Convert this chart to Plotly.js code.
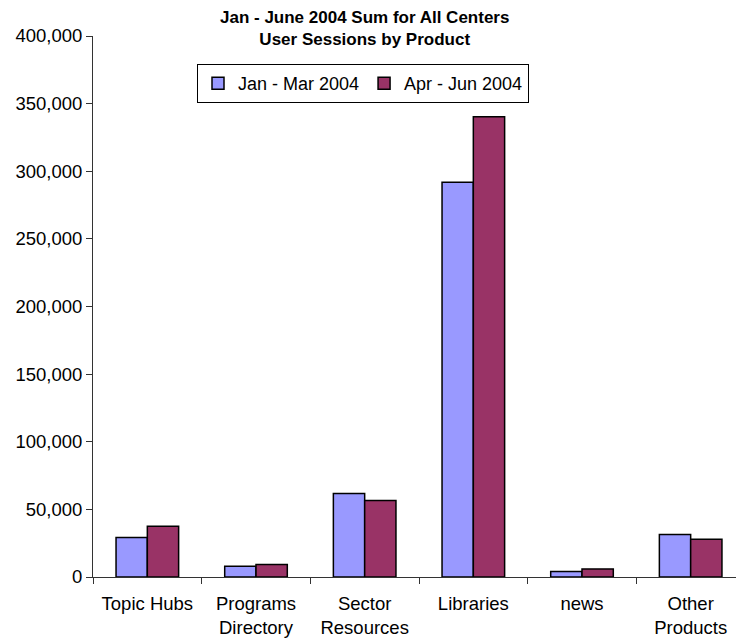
<!DOCTYPE html>
<html>
<head>
<meta charset="utf-8">
<script src="https://cdn.plot.ly/plotly-3.0.1.min.js"></script>
<style>
  html, body { margin: 0; padding: 0; background: #fff; overflow: hidden; }
  #chart { width: 752px; height: 639px; }
</style>
</head>
<body>
<div id="chart"></div>
<script>
// Products along the x axis
const products = ["Topic Hubs", "Programs<br>Directory", "Sector<br>Resources", "Libraries", "news", "Other<br>Products"];

// User sessions per quarter
const janMar2004 = [29200, 8000, 61700, 291900, 4100, 31400];
const aprJun2004 = [37600, 9200, 56600, 340300, 6000, 28000];

const seriesNames = ["Jan - Mar 2004", "Apr - Jun 2004"];
const yTicks = [0, 50000, 100000, 150000, 200000, 250000, 300000, 350000, 400000];
const chartTitle = "<b>Jan - June 2004 Sum for All Centers<br>User Sessions by Product</b>";

const font = "Liberation Sans, Arial, sans-serif";

// plot area in pixels: left 93, top 36, width 652, height 541
const plotTop = 36, plotH = 541, plotL = 93, plotW = 652;
const py = p => (plotTop + plotH - p) / plotH;   // pixel row -> paper y
const px = p => (p - plotL) / plotW;             // pixel column -> paper x

const traces = [
  {
    type: "bar", name: seriesNames[0], x: products, y: janMar2004,
    marker: { color: "#9999FF", line: { color: "#000000", width: 1.5 } },
    hoverinfo: "skip"
  },
  {
    type: "bar", name: seriesNames[1], x: products, y: aprJun2004,
    marker: { color: "#993366", line: { color: "#000000", width: 1.5 } },
    hoverinfo: "skip"
  }
];

const layout = {
  width: 752, height: 639,
  margin: { l: plotL, r: 752 - plotL - plotW, t: plotTop, b: 639 - plotTop - plotH },
  paper_bgcolor: "#ffffff", plot_bgcolor: "#ffffff",
  font: { family: font, size: 18, color: "#000000" },
  barmode: "group", bargap: 0.424, bargroupgap: 0,
  annotations: [{
    text: chartTitle, showarrow: false,
    xref: "paper", yref: "paper",
    x: px(364), xanchor: "center",
    y: py(6), yanchor: "top",
    font: { family: font, size: 17, color: "#000000" }
  }],
  xaxis: {
    type: "category",
    showline: true, linecolor: "#333333", linewidth: 1,
    ticks: "outside", tickson: "boundaries", ticklen: 6, tickcolor: "#333333",
    ticklabelstandoff: 10,
    showgrid: false, zeroline: false,
    tickfont: { family: font, size: 18.5, color: "#000000" }
  },
  yaxis: {
    range: [0, 400000], tickvals: yTicks, tickformat: ",",
    showline: true, linecolor: "#333333", linewidth: 1,
    ticks: "outside", ticklen: 6, tickcolor: "#333333",
    showgrid: false, zeroline: false,
    tickfont: { family: font, size: 18.5, color: "#000000" }
  },
  showlegend: true,
  legend: {
    orientation: "h",
    x: px(363), xanchor: "center",
    y: py(64), yanchor: "top",
    bgcolor: "#ffffff", bordercolor: "#000000", borderwidth: 1,
    font: { family: font, size: 18, color: "#000000" },
    itemwidth: 30, tracegroupgap: 0
  }
};

Plotly.newPlot("chart", traces, layout, { displayModeBar: false, staticPlot: true });
</script>
</body>
</html>
